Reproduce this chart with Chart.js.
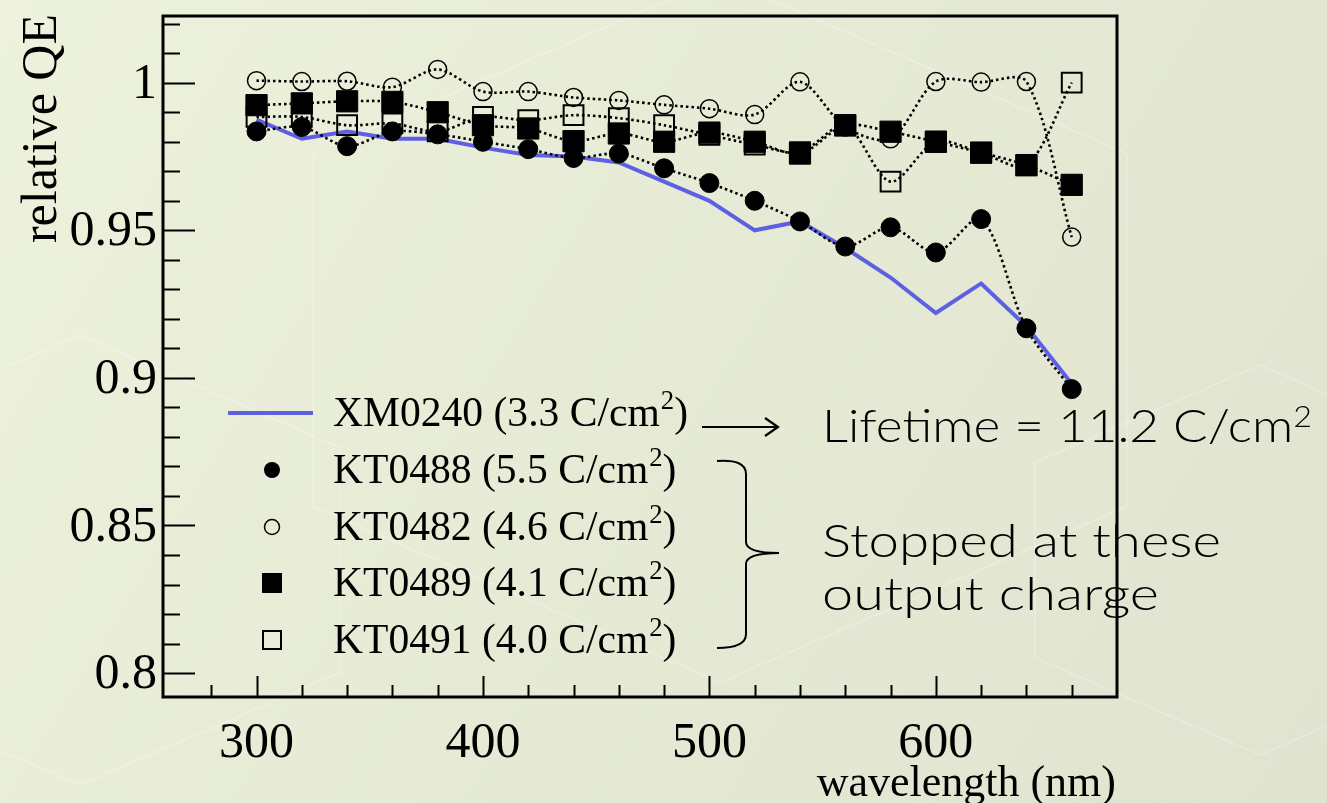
<!DOCTYPE html>
<html>
<head>
<meta charset="utf-8">
<script src="https://cdn.jsdelivr.net/npm/chart.js@4.4.1/dist/chart.umd.min.js"></script>
<style>
  html, body { margin: 0; padding: 0; background: #e6ebd5; }
  canvas { display: block; }
</style>
</head>
<body>
<canvas id="qe" width="1327" height="803"></canvas>
<script>
// Wavelength grid (nm)
const wavelengths = [300, 320, 340, 360, 380, 400, 420, 440, 460, 480, 500, 520, 540, 560, 580, 600, 620, 640, 660];

// Relative QE per tube
const qeXM0240 = [0.9875, 0.981, 0.9835, 0.981, 0.981, 0.978, 0.9755, 0.975, 0.973, 0.9665, 0.960, 0.950, 0.953, 0.944, 0.934, 0.922, 0.932, 0.9175, 0.898];
const qeKT0488 = [0.9835, 0.985, 0.9785, 0.9835, 0.9825, 0.980, 0.9775, 0.9745, 0.976, 0.971, 0.966, 0.960, 0.953, 0.9445, 0.951, 0.9425, 0.9538, 0.9168, 0.8962];
const qeKT0482 = [1.0007, 1.0004, 1.0005, 0.9985, 1.0045, 0.997, 0.997, 0.995, 0.994, 0.9925, 0.9912, 0.9892, 1.0003, 0.985, 0.981, 1.0004, 1.0002, 1.0004, 0.9477];
const qeKT0489 = [0.9924, 0.993, 0.9937, 0.9935, 0.990, 0.9856, 0.9845, 0.9802, 0.9828, 0.980, 0.9831, 0.980, 0.976, 0.9856, 0.9834, 0.980, 0.9763, 0.9721, 0.9654];
const qeKT0491 = [0.9884, 0.9884, 0.9856, 0.9862, 0.9835, 0.9884, 0.9873, 0.989, 0.988, 0.9856, 0.9823, 0.979, 0.9765, 0.9855, 0.9665, 0.980, 0.9763, 0.972, 1.0];

// Legend names and accumulated output charge (C/cm^2)
const tubeNames = ['XM0240', 'KT0488', 'KT0482', 'KT0489', 'KT0491'];
const tubeCharge = ['3.3', '5.5', '4.6', '4.1', '4.0'];

// Axis ticks
const xTickValues = [300, 400, 500, 600];
const xTickLabels = ['300', '400', '500', '600'];
const yTickValues = [0.8, 0.85, 0.9, 0.95, 1];
const yTickLabels = ['0.8', '0.85', '0.9', '0.95', '1'];

const SERIF = '"Liberation Serif", "Times New Roman", serif';
const SANS = 'Lato, "Open Sans", "DejaVu Sans", sans-serif';
const BLUE = '#5f5fe3';

const pts = arr => wavelengths.map((w, i) => ({ x: w, y: arr[i] }));
const dotted = {
  borderColor: '#000', borderWidth: 2.6, borderDash: [2.5, 3],
  tension: 0.3, fill: false, pointHoverRadius: 0
};

// Background and all frame / text decoration
const decor = {
  id: 'decor',
  beforeDraw(chart) {
    const { ctx, width, height } = chart;
    ctx.save();
    const g = ctx.createLinearGradient(0, 0, width, height);
    g.addColorStop(0, '#edf2dc');
    g.addColorStop(1, '#dfe3cf');
    ctx.fillStyle = g;
    ctx.fillRect(0, 0, width, height);
    // faint hexagon outlines of the slide backdrop
    ctx.strokeStyle = 'rgba(255,255,255,0.28)';
    ctx.lineWidth = 1.5;
    const hex = (cx, cy, r) => {
      ctx.beginPath();
      for (let k = 0; k < 6; k++) {
        const a = Math.PI / 6 + k * Math.PI / 3;
        const px = cx + r * Math.cos(a), py = cy + r * Math.sin(a) * 0.75;
        k ? ctx.lineTo(px, py) : ctx.moveTo(px, py);
      }
      ctx.closePath();
      ctx.stroke();
    };
    hex(720, 330, 470);
    hex(80, 560, 300);
    hex(1260, 560, 260);
    ctx.restore();
  },
  afterDraw(chart) {
    const { ctx, chartArea: a } = chart;
    const xs = chart.scales.x, ys = chart.scales.y;
    ctx.save();

    // frame
    ctx.strokeStyle = '#000';
    ctx.lineWidth = 3;
    ctx.strokeRect(a.left, a.top, a.right - a.left, a.bottom - a.top);

    // inward ticks
    ctx.lineWidth = 2;
    ctx.beginPath();
    for (let v = 80; v <= 102; v++) {
      const y = Math.round(ys.getPixelForValue(v / 100)) + 0.5;
      const len = v % 5 === 0 ? 32 : 17;
      ctx.moveTo(a.left, y); ctx.lineTo(a.left + len, y);
    }
    for (let w = 280; w < 680; w += 20) {
      const x = Math.round(xs.getPixelForValue(w)) + 0.5;
      const len = w % 100 === 0 ? 21 : 12;
      ctx.moveTo(x, a.bottom); ctx.lineTo(x, a.bottom - len);
    }
    ctx.stroke();

    // tick labels
    ctx.fillStyle = '#000';
    ctx.font = '50px ' + SERIF;
    ctx.textAlign = 'right';
    ctx.textBaseline = 'middle';
    yTickValues.forEach((v, i) => ctx.fillText(yTickLabels[i], a.left - 6, ys.getPixelForValue(v) + 2));
    ctx.textAlign = 'center';
    ctx.textBaseline = 'alphabetic';
    xTickValues.forEach((v, i) => ctx.fillText(xTickLabels[i], xs.getPixelForValue(v), 757));

    // axis titles
    ctx.font = '44px ' + SERIF;
    ctx.textAlign = 'right';
    ctx.fillText('wavelength (nm)', a.right - 1, 796);
    ctx.save();
    ctx.translate(56, 14);
    ctx.rotate(-Math.PI / 2);
    ctx.font = '50px ' + SERIF;
    ctx.textAlign = 'right';
    ctx.fillText('relative QE', 0, 0);
    ctx.restore();

    // legend
    const rows = [413, 470, 527, 583, 640];
    const mx = 272, tx = 333;
    const mainFont = '42px ' + SERIF, supFont = '27px ' + SERIF;
    const legendText = i => [tubeNames[i] + ' (' + tubeCharge[i] + ' C/cm', '2', ')'];
    const partsWidth = parts => {
      ctx.font = mainFont; let w = ctx.measureText(parts[0]).width + ctx.measureText(parts[2]).width;
      ctx.font = supFont; w += ctx.measureText(parts[1]).width; return w;
    };
    const sx = 354 / partsWidth(legendText(0));
    rows.forEach((ry, i) => {
      // marker
      ctx.lineWidth = 2;
      ctx.strokeStyle = '#000';
      ctx.fillStyle = '#000';
      if (i === 0) {
        ctx.strokeStyle = BLUE; ctx.lineWidth = 4;
        ctx.beginPath(); ctx.moveTo(228, ry); ctx.lineTo(313, ry); ctx.stroke();
      } else if (i === 1) {
        ctx.beginPath(); ctx.arc(mx, ry, 8, 0, Math.PI * 2); ctx.fill();
      } else if (i === 2) {
        ctx.lineWidth = 1.5;
        ctx.beginPath(); ctx.arc(mx, ry, 7.5, 0, Math.PI * 2); ctx.stroke();
      } else if (i === 3) {
        ctx.fillRect(mx - 10, ry - 10, 20, 20);
      } else {
        ctx.strokeRect(mx - 9, ry - 9, 18, 18);
      }
      // label with superscript
      const parts = legendText(i);
      ctx.save();
      ctx.translate(tx, ry + 13);
      ctx.scale(sx, 1);
      ctx.fillStyle = '#000';
      ctx.textAlign = 'left';
      ctx.textBaseline = 'alphabetic';
      ctx.font = mainFont;
      ctx.fillText(parts[0], 0, 0);
      let cx = ctx.measureText(parts[0]).width;
      ctx.font = supFont;
      ctx.fillText(parts[1], cx + 1, -17);
      cx += ctx.measureText(parts[1]).width + 1;
      ctx.font = mainFont;
      ctx.fillText(parts[2], cx, 0);
      ctx.restore();
    });

    // arrow towards the lifetime note
    ctx.strokeStyle = '#000';
    ctx.lineWidth = 2.2;
    ctx.beginPath();
    ctx.moveTo(702, 427); ctx.lineTo(778, 427);
    ctx.moveTo(765, 418); ctx.lineTo(778, 427); ctx.lineTo(765, 436);
    ctx.stroke();

    // brace grouping the stopped tubes
    ctx.lineWidth = 2;
    ctx.beginPath();
    ctx.moveTo(717, 461);
    ctx.quadraticCurveTo(746, 459, 746, 474);
    ctx.lineTo(746, 542);
    ctx.quadraticCurveTo(746, 553, 779, 553);
    ctx.moveTo(779, 553);
    ctx.quadraticCurveTo(746, 553, 746, 564);
    ctx.lineTo(746, 634);
    ctx.quadraticCurveTo(746, 648, 717, 648);
    ctx.stroke();

    // notes (fitted to their line width)
    const fitText = (parts, x, y, width) => {
      let w = 0;
      parts.forEach(p => { ctx.font = p.font; w += ctx.measureText(p.t).width; });
      ctx.save();
      ctx.translate(x, y);
      ctx.scale(width / w, 1);
      ctx.textAlign = 'left';
      ctx.fillStyle = '#000';
      let cx = 0;
      parts.forEach(p => { ctx.font = p.font; ctx.fillText(p.t, cx, p.dy || 0); cx += ctx.measureText(p.t).width; });
      ctx.restore();
    };
    const noteFont = '300 46px ' + SANS;
    fitText([{ t: 'Lifetime = 11.2 C/cm', font: noteFont }, { t: '2', font: '300 29px ' + SANS, dy: -15 }], 822, 442, 490);
    fitText([{ t: 'Stopped at these', font: noteFont }], 822, 557, 399);
    fitText([{ t: 'output charge', font: noteFont }], 822, 610, 337);

    ctx.restore();
  }
};

new Chart(document.getElementById('qe'), {
  type: 'line',
  data: {
    datasets: [
      { label: tubeNames[0], data: pts(qeXM0240), borderColor: BLUE, borderWidth: 4, pointRadius: 0, tension: 0, fill: false, order: 5 },
      { label: tubeNames[1], data: pts(qeKT0488), ...dotted, pointStyle: 'circle', pointRadius: 9.5,
        pointBackgroundColor: '#000', pointBorderColor: '#000', pointBorderWidth: 1, order: 1 },
      { label: tubeNames[2], data: pts(qeKT0482), ...dotted, pointStyle: 'circle', pointRadius: 9,
        pointBackgroundColor: 'rgba(0,0,0,0)', pointBorderColor: '#000', pointBorderWidth: 1.5, order: 4 },
      { label: tubeNames[3], data: pts(qeKT0489), ...dotted, pointStyle: 'rect', pointRadius: 15,
        pointBackgroundColor: '#000', pointBorderColor: '#000', pointBorderWidth: 1, order: 2 },
      { label: tubeNames[4], data: pts(qeKT0491), ...dotted, pointStyle: 'rect', pointRadius: 14,
        pointBackgroundColor: 'rgba(0,0,0,0)', pointBorderColor: '#000', pointBorderWidth: 2, order: 3 }
    ]
  },
  options: {
    responsive: false,
    devicePixelRatio: 1,
    animation: false,
    events: [],
    layout: { padding: { left: 163, right: 210, top: 12, bottom: 106 } },
    scales: {
      x: { type: 'linear', min: 258.7, max: 680, display: false },
      y: { type: 'linear', min: 0.7919, max: 1.0226, display: false }
    },
    plugins: { legend: { display: false }, tooltip: { enabled: false } }
  },
  plugins: [decor]
});
</script>
</body>
</html>
